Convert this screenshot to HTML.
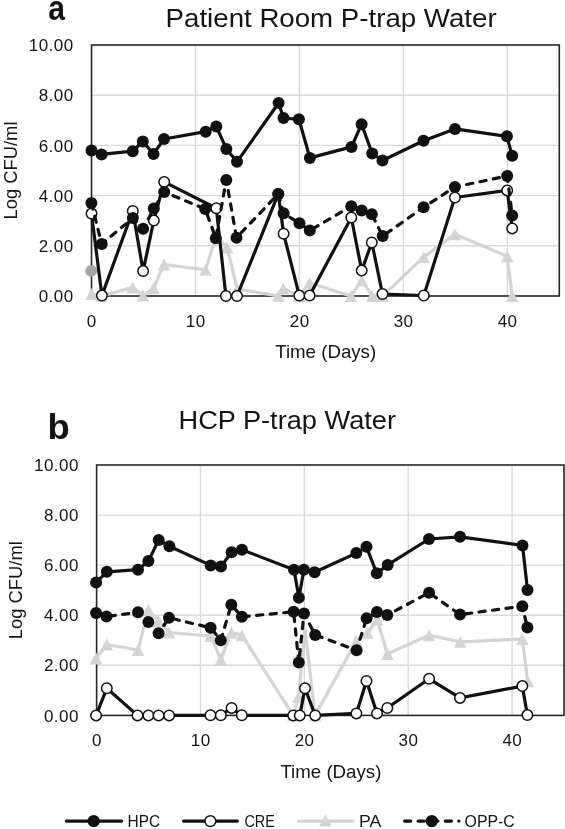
<!DOCTYPE html>
<html><head><meta charset="utf-8"><title>P-trap Water charts</title>
<style>
html,body{margin:0;padding:0;background:#fff;}
body{width:565px;height:829px;overflow:hidden;}
svg{display:block;will-change:transform;}
text{font-family:"Liberation Sans",sans-serif;fill:#141414;}
.pl{font-weight:bold;font-size:35px;}
.ti{font-size:26px;}
.tk{font-size:17px;letter-spacing:0.45px;}
.at{font-size:18.5px;}
.lg{font-size:17px;}
</style></head>
<body>
<svg width="565" height="829" viewBox="0 0 565 829">
<rect width="565" height="829" fill="#fff"/>
<text x="0" y="0" class="pl" transform="translate(48.2,20.2) scale(0.86,1)">a</text>
<text x="165.6" y="27" class="ti" textLength="331" lengthAdjust="spacingAndGlyphs">Patient Room P-trap Water</text>
<line x1="195.46" y1="45" x2="195.46" y2="296" stroke="#d9d9d9" stroke-width="1.4"/>
<line x1="299.41" y1="45" x2="299.41" y2="296" stroke="#d9d9d9" stroke-width="1.4"/>
<line x1="403.37" y1="45" x2="403.37" y2="296" stroke="#d9d9d9" stroke-width="1.4"/>
<line x1="507.32" y1="45" x2="507.32" y2="296" stroke="#d9d9d9" stroke-width="1.4"/>
<line x1="91.5" y1="245.8" x2="559.3" y2="245.8" stroke="#d9d9d9" stroke-width="1.4"/>
<line x1="91.5" y1="195.6" x2="559.3" y2="195.6" stroke="#d9d9d9" stroke-width="1.4"/>
<line x1="91.5" y1="145.4" x2="559.3" y2="145.4" stroke="#d9d9d9" stroke-width="1.4"/>
<line x1="91.5" y1="95.2" x2="559.3" y2="95.2" stroke="#d9d9d9" stroke-width="1.4"/>
<rect x="91.5" y="45" width="467.8" height="251" fill="none" stroke="#262626" stroke-width="1.6"/>
<text x="73.6" y="302.1" class="tk" text-anchor="end">0.00</text>
<text x="73.6" y="251.9" class="tk" text-anchor="end">2.00</text>
<text x="73.6" y="201.7" class="tk" text-anchor="end">4.00</text>
<text x="73.6" y="151.5" class="tk" text-anchor="end">6.00</text>
<text x="73.6" y="101.3" class="tk" text-anchor="end">8.00</text>
<text x="73.6" y="51.1" class="tk" text-anchor="end">10.00</text>
<text x="91.75" y="327.2" class="tk" text-anchor="middle">0</text>
<text x="195.71" y="327.2" class="tk" text-anchor="middle">10</text>
<text x="299.66" y="327.2" class="tk" text-anchor="middle">20</text>
<text x="403.62" y="327.2" class="tk" text-anchor="middle">30</text>
<text x="507.57" y="327.2" class="tk" text-anchor="middle">40</text>
<text transform="translate(16.9,170.5) rotate(-90)" class="at" text-anchor="middle" textLength="98" lengthAdjust="spacingAndGlyphs">Log CFU/ml</text>
<text x="325.7" y="358.4" class="at" text-anchor="middle" textLength="101" lengthAdjust="spacingAndGlyphs">Time (Days)</text>
<polyline points="91.5,294 101.6,296 132.7,287.4 143,295.5 153.5,288.2 164,264.5 205.6,269.8 215.9,236.4 227.1,247.5 237.2,289 278.6,296 283.3,288.5 299,296 309.7,283 351,296 361.8,280.3 372.2,296 382.5,296 423.6,257.1 454.9,234.3 507.2,256.3 512.2,296" fill="none" stroke="#d4d4d4" stroke-width="3.2" stroke-linejoin="round"/>
<path d="M91.5,288.01 L97.8,299.99 L85.2,299.99 Z" fill="#d4d4d4"/>
<path d="M101.6,290.01 L107.9,301.99 L95.3,301.99 Z" fill="#d4d4d4"/>
<path d="M132.7,281.41 L139,293.38 L126.4,293.38 Z" fill="#d4d4d4"/>
<path d="M143,289.51 L149.3,301.49 L136.7,301.49 Z" fill="#d4d4d4"/>
<path d="M153.5,282.21 L159.8,294.19 L147.2,294.19 Z" fill="#d4d4d4"/>
<path d="M164,258.51 L170.3,270.49 L157.7,270.49 Z" fill="#d4d4d4"/>
<path d="M205.6,263.81 L211.9,275.79 L199.3,275.79 Z" fill="#d4d4d4"/>
<path d="M215.9,230.42 L222.2,242.38 L209.6,242.38 Z" fill="#d4d4d4"/>
<path d="M227.1,241.51 L233.4,253.49 L220.8,253.49 Z" fill="#d4d4d4"/>
<path d="M237.2,283.01 L243.5,294.99 L230.9,294.99 Z" fill="#d4d4d4"/>
<path d="M278.6,290.01 L284.9,301.99 L272.3,301.99 Z" fill="#d4d4d4"/>
<path d="M283.3,282.51 L289.6,294.49 L277,294.49 Z" fill="#d4d4d4"/>
<path d="M299,290.01 L305.3,301.99 L292.7,301.99 Z" fill="#d4d4d4"/>
<path d="M309.7,277.01 L316,288.99 L303.4,288.99 Z" fill="#d4d4d4"/>
<path d="M351,290.01 L357.3,301.99 L344.7,301.99 Z" fill="#d4d4d4"/>
<path d="M361.8,274.31 L368.1,286.29 L355.5,286.29 Z" fill="#d4d4d4"/>
<path d="M372.2,290.01 L378.5,301.99 L365.9,301.99 Z" fill="#d4d4d4"/>
<path d="M382.5,290.01 L388.8,301.99 L376.2,301.99 Z" fill="#d4d4d4"/>
<path d="M423.6,251.12 L429.9,263.09 L417.3,263.09 Z" fill="#d4d4d4"/>
<path d="M454.9,228.31 L461.2,240.29 L448.6,240.29 Z" fill="#d4d4d4"/>
<path d="M507.2,250.31 L513.5,262.29 L500.9,262.29 Z" fill="#d4d4d4"/>
<path d="M512.2,290.01 L518.5,301.99 L505.9,301.99 Z" fill="#d4d4d4"/>
<circle cx="91.2" cy="270.9" r="5.95" fill="#a6a6a6"/>
<polyline points="91.5,150.4 101.6,154.4 132.7,151.2 142.8,141.5 153.5,153.9 164,139 205.7,131.7 216.3,126.4 226.4,149 237,161.8 278.6,103 283.5,118 298.9,119.3 309.9,157.9 351.5,146.9 361.6,124.2 372.2,153.5 382.5,160.5 423.5,140.7 455,128.9 506.9,136.3 512.2,155.8" fill="none" stroke="#111" stroke-width="3.2" stroke-linejoin="round"/>
<circle cx="91.5" cy="150.4" r="6.0" fill="#111"/>
<circle cx="101.6" cy="154.4" r="6.0" fill="#111"/>
<circle cx="132.7" cy="151.2" r="6.0" fill="#111"/>
<circle cx="142.8" cy="141.5" r="6.0" fill="#111"/>
<circle cx="153.5" cy="153.9" r="6.0" fill="#111"/>
<circle cx="164" cy="139" r="6.0" fill="#111"/>
<circle cx="205.7" cy="131.7" r="6.0" fill="#111"/>
<circle cx="216.3" cy="126.4" r="6.0" fill="#111"/>
<circle cx="226.4" cy="149" r="6.0" fill="#111"/>
<circle cx="237" cy="161.8" r="6.0" fill="#111"/>
<circle cx="278.6" cy="103" r="6.0" fill="#111"/>
<circle cx="283.5" cy="118" r="6.0" fill="#111"/>
<circle cx="298.9" cy="119.3" r="6.0" fill="#111"/>
<circle cx="309.9" cy="157.9" r="6.0" fill="#111"/>
<circle cx="351.5" cy="146.9" r="6.0" fill="#111"/>
<circle cx="361.6" cy="124.2" r="6.0" fill="#111"/>
<circle cx="372.2" cy="153.5" r="6.0" fill="#111"/>
<circle cx="382.5" cy="160.5" r="6.0" fill="#111"/>
<circle cx="423.5" cy="140.7" r="6.0" fill="#111"/>
<circle cx="455" cy="128.9" r="6.0" fill="#111"/>
<circle cx="506.9" cy="136.3" r="6.0" fill="#111"/>
<circle cx="512.2" cy="155.8" r="6.0" fill="#111"/>
<polyline points="91.5,213.6 101.9,295.6 132.8,210.9 143.1,271.1 153.8,220.5 164.2,181.9 216.3,208.2 225.9,296 237,296 278.3,193.9 283.6,233.7 299.3,295.6 309.6,295.6 351.3,217.5 361.7,270.6 371.8,242.5 382.5,294 423.8,295.5 454.9,197.5 507.2,190.4 512.2,228.4" fill="none" stroke="#111" stroke-width="3.2" stroke-linejoin="round"/>
<circle cx="91.5" cy="213.6" r="5.25" fill="#fff" stroke="#111" stroke-width="1.5"/>
<circle cx="101.9" cy="295.6" r="5.25" fill="#fff" stroke="#111" stroke-width="1.5"/>
<circle cx="132.8" cy="210.9" r="5.25" fill="#fff" stroke="#111" stroke-width="1.5"/>
<circle cx="143.1" cy="271.1" r="5.25" fill="#fff" stroke="#111" stroke-width="1.5"/>
<circle cx="153.8" cy="220.5" r="5.25" fill="#fff" stroke="#111" stroke-width="1.5"/>
<circle cx="164.2" cy="181.9" r="5.25" fill="#fff" stroke="#111" stroke-width="1.5"/>
<circle cx="216.3" cy="208.2" r="5.25" fill="#fff" stroke="#111" stroke-width="1.5"/>
<circle cx="225.9" cy="296" r="5.25" fill="#fff" stroke="#111" stroke-width="1.5"/>
<circle cx="237" cy="296" r="5.25" fill="#fff" stroke="#111" stroke-width="1.5"/>
<circle cx="278.3" cy="193.9" r="5.25" fill="#fff" stroke="#111" stroke-width="1.5"/>
<circle cx="283.6" cy="233.7" r="5.25" fill="#fff" stroke="#111" stroke-width="1.5"/>
<circle cx="299.3" cy="295.6" r="5.25" fill="#fff" stroke="#111" stroke-width="1.5"/>
<circle cx="309.6" cy="295.6" r="5.25" fill="#fff" stroke="#111" stroke-width="1.5"/>
<circle cx="351.3" cy="217.5" r="5.25" fill="#fff" stroke="#111" stroke-width="1.5"/>
<circle cx="361.7" cy="270.6" r="5.25" fill="#fff" stroke="#111" stroke-width="1.5"/>
<circle cx="371.8" cy="242.5" r="5.25" fill="#fff" stroke="#111" stroke-width="1.5"/>
<circle cx="382.5" cy="294" r="5.25" fill="#fff" stroke="#111" stroke-width="1.5"/>
<circle cx="423.8" cy="295.5" r="5.25" fill="#fff" stroke="#111" stroke-width="1.5"/>
<circle cx="454.9" cy="197.5" r="5.25" fill="#fff" stroke="#111" stroke-width="1.5"/>
<circle cx="507.2" cy="190.4" r="5.25" fill="#fff" stroke="#111" stroke-width="1.5"/>
<circle cx="512.2" cy="228.4" r="5.25" fill="#fff" stroke="#111" stroke-width="1.5"/>
<polyline points="91.4,203 101.7,244 132.9,218.1 143.1,228.8 153.8,208.5 164.2,192 205.2,209 215.8,238.2 226.3,179.9 236.5,237.7 278.3,193.9 283.6,213.3 299.5,223.3 309.8,230.5 351.3,206.3 361.7,210.6 371.8,214.3 382.7,236.1 423.6,207.3 454.9,187 507.2,176 512.2,215.4" fill="none" stroke="#111" stroke-width="3.2" stroke-dasharray="6.2 7.4" stroke-linecap="round" stroke-linejoin="round"/>
<circle cx="91.4" cy="203" r="6.0" fill="#111"/>
<circle cx="101.7" cy="244" r="6.0" fill="#111"/>
<circle cx="132.9" cy="218.1" r="6.0" fill="#111"/>
<circle cx="143.1" cy="228.8" r="6.0" fill="#111"/>
<circle cx="153.8" cy="208.5" r="6.0" fill="#111"/>
<circle cx="164.2" cy="192" r="6.0" fill="#111"/>
<circle cx="205.2" cy="209" r="6.0" fill="#111"/>
<circle cx="215.8" cy="238.2" r="6.0" fill="#111"/>
<circle cx="226.3" cy="179.9" r="6.0" fill="#111"/>
<circle cx="236.5" cy="237.7" r="6.0" fill="#111"/>
<circle cx="278.3" cy="193.9" r="6.0" fill="#111"/>
<circle cx="283.6" cy="213.3" r="6.0" fill="#111"/>
<circle cx="299.5" cy="223.3" r="6.0" fill="#111"/>
<circle cx="309.8" cy="230.5" r="6.0" fill="#111"/>
<circle cx="351.3" cy="206.3" r="6.0" fill="#111"/>
<circle cx="361.7" cy="210.6" r="6.0" fill="#111"/>
<circle cx="371.8" cy="214.3" r="6.0" fill="#111"/>
<circle cx="382.7" cy="236.1" r="6.0" fill="#111"/>
<circle cx="423.6" cy="207.3" r="6.0" fill="#111"/>
<circle cx="454.9" cy="187" r="6.0" fill="#111"/>
<circle cx="507.2" cy="176" r="6.0" fill="#111"/>
<circle cx="512.2" cy="215.4" r="6.0" fill="#111"/>
<text x="0" y="0" class="pl" transform="translate(47.6,439.3) scale(1.04,1.02)">b</text>
<text x="178.5" y="429.3" class="ti" textLength="217.5" lengthAdjust="spacingAndGlyphs">HCP P-trap Water</text>
<line x1="200.47" y1="465" x2="200.47" y2="715.4" stroke="#d9d9d9" stroke-width="1.4"/>
<line x1="304.33" y1="465" x2="304.33" y2="715.4" stroke="#d9d9d9" stroke-width="1.4"/>
<line x1="408.2" y1="465" x2="408.2" y2="715.4" stroke="#d9d9d9" stroke-width="1.4"/>
<line x1="512.07" y1="465" x2="512.07" y2="715.4" stroke="#d9d9d9" stroke-width="1.4"/>
<line x1="96.6" y1="665.32" x2="564" y2="665.32" stroke="#d9d9d9" stroke-width="1.4"/>
<line x1="96.6" y1="615.24" x2="564" y2="615.24" stroke="#d9d9d9" stroke-width="1.4"/>
<line x1="96.6" y1="565.16" x2="564" y2="565.16" stroke="#d9d9d9" stroke-width="1.4"/>
<line x1="96.6" y1="515.08" x2="564" y2="515.08" stroke="#d9d9d9" stroke-width="1.4"/>
<rect x="96.6" y="465" width="467.4" height="250.4" fill="none" stroke="#262626" stroke-width="1.6"/>
<text x="78.8" y="721.5" class="tk" text-anchor="end">0.00</text>
<text x="78.8" y="671.42" class="tk" text-anchor="end">2.00</text>
<text x="78.8" y="621.34" class="tk" text-anchor="end">4.00</text>
<text x="78.8" y="571.26" class="tk" text-anchor="end">6.00</text>
<text x="78.8" y="521.18" class="tk" text-anchor="end">8.00</text>
<text x="78.8" y="471.1" class="tk" text-anchor="end">10.00</text>
<text x="96.85" y="746.4" class="tk" text-anchor="middle">0</text>
<text x="200.72" y="746.4" class="tk" text-anchor="middle">10</text>
<text x="304.58" y="746.4" class="tk" text-anchor="middle">20</text>
<text x="408.45" y="746.4" class="tk" text-anchor="middle">30</text>
<text x="512.32" y="746.4" class="tk" text-anchor="middle">40</text>
<text transform="translate(22,590.2) rotate(-90)" class="at" text-anchor="middle" textLength="98" lengthAdjust="spacingAndGlyphs">Log CFU/ml</text>
<text x="330.9" y="778" class="at" text-anchor="middle" textLength="101" lengthAdjust="spacingAndGlyphs">Time (Days)</text>
<polyline points="96.1,658.5 106.8,644.5 138,650 148.4,610 158.6,621 169,632.5 210.6,636 220.8,659.3 231.4,632.4 241.8,635.2 293.3,715.4 298.6,696.8 305,629 315,715.4 356.4,641 367.4,632.7 377.1,619.5 387.3,654 429.1,635.2 460.2,641.8 522.3,639.1 527.7,681.2" fill="none" stroke="#d4d4d4" stroke-width="3.2" stroke-linejoin="round"/>
<path d="M96.1,652.51 L102.4,664.49 L89.8,664.49 Z" fill="#d4d4d4"/>
<path d="M106.8,638.51 L113.1,650.49 L100.5,650.49 Z" fill="#d4d4d4"/>
<path d="M138,644.01 L144.3,655.99 L131.7,655.99 Z" fill="#d4d4d4"/>
<path d="M148.4,604.01 L154.7,615.99 L142.1,615.99 Z" fill="#d4d4d4"/>
<path d="M158.6,615.01 L164.9,626.99 L152.3,626.99 Z" fill="#d4d4d4"/>
<path d="M169,626.51 L175.3,638.49 L162.7,638.49 Z" fill="#d4d4d4"/>
<path d="M210.6,630.01 L216.9,641.99 L204.3,641.99 Z" fill="#d4d4d4"/>
<path d="M220.8,653.31 L227.1,665.28 L214.5,665.28 Z" fill="#d4d4d4"/>
<path d="M231.4,626.41 L237.7,638.38 L225.1,638.38 Z" fill="#d4d4d4"/>
<path d="M241.8,629.22 L248.1,641.19 L235.5,641.19 Z" fill="#d4d4d4"/>
<path d="M293.3,709.41 L299.6,721.38 L287,721.38 Z" fill="#d4d4d4"/>
<path d="M298.6,690.81 L304.9,702.78 L292.3,702.78 Z" fill="#d4d4d4"/>
<path d="M315,709.41 L321.3,721.38 L308.7,721.38 Z" fill="#d4d4d4"/>
<path d="M356.4,635.01 L362.7,646.99 L350.1,646.99 Z" fill="#d4d4d4"/>
<path d="M367.4,626.72 L373.7,638.69 L361.1,638.69 Z" fill="#d4d4d4"/>
<path d="M377.1,613.51 L383.4,625.49 L370.8,625.49 Z" fill="#d4d4d4"/>
<path d="M387.3,648.01 L393.6,659.99 L381,659.99 Z" fill="#d4d4d4"/>
<path d="M429.1,629.22 L435.4,641.19 L422.8,641.19 Z" fill="#d4d4d4"/>
<path d="M460.2,635.81 L466.5,647.78 L453.9,647.78 Z" fill="#d4d4d4"/>
<path d="M522.3,633.12 L528.6,645.09 L516,645.09 Z" fill="#d4d4d4"/>
<path d="M527.7,675.22 L534,687.19 L521.4,687.19 Z" fill="#d4d4d4"/>
<polyline points="96.1,582.6 106.8,571.8 138,569.7 148.4,561.1 158.7,539.9 169.4,546.2 210.7,565.4 221,566.5 231.6,552.3 241.9,549.7 294,569.7 298.9,597.7 303.9,569.7 314.6,572.2 356.3,553.1 366.5,546.8 376.8,573.3 387.7,564.9 429,539 460,536.8 522.5,545.4 527.5,589.9" fill="none" stroke="#111" stroke-width="3.2" stroke-linejoin="round"/>
<circle cx="96.1" cy="582.6" r="6.0" fill="#111"/>
<circle cx="106.8" cy="571.8" r="6.0" fill="#111"/>
<circle cx="138" cy="569.7" r="6.0" fill="#111"/>
<circle cx="148.4" cy="561.1" r="6.0" fill="#111"/>
<circle cx="158.7" cy="539.9" r="6.0" fill="#111"/>
<circle cx="169.4" cy="546.2" r="6.0" fill="#111"/>
<circle cx="210.7" cy="565.4" r="6.0" fill="#111"/>
<circle cx="221" cy="566.5" r="6.0" fill="#111"/>
<circle cx="231.6" cy="552.3" r="6.0" fill="#111"/>
<circle cx="241.9" cy="549.7" r="6.0" fill="#111"/>
<circle cx="294" cy="569.7" r="6.0" fill="#111"/>
<circle cx="298.9" cy="597.7" r="6.0" fill="#111"/>
<circle cx="303.9" cy="569.7" r="6.0" fill="#111"/>
<circle cx="314.6" cy="572.2" r="6.0" fill="#111"/>
<circle cx="356.3" cy="553.1" r="6.0" fill="#111"/>
<circle cx="366.5" cy="546.8" r="6.0" fill="#111"/>
<circle cx="376.8" cy="573.3" r="6.0" fill="#111"/>
<circle cx="387.7" cy="564.9" r="6.0" fill="#111"/>
<circle cx="429" cy="539" r="6.0" fill="#111"/>
<circle cx="460" cy="536.8" r="6.0" fill="#111"/>
<circle cx="522.5" cy="545.4" r="6.0" fill="#111"/>
<circle cx="527.5" cy="589.9" r="6.0" fill="#111"/>
<polyline points="96.1,715.4 106.8,688.3 137.5,715.4 148.4,715.4 158.6,715.4 169.1,715.4 210.5,715.3 220.8,715.3 231.6,707.9 241.8,715.3 293.2,715.4 299.8,715.4 305,688.2 315.2,715.4 356.4,713.4 366.5,681 377,713.4 387.3,708 429.1,678.8 460,697.9 522.3,686.1 527.4,715.1" fill="none" stroke="#111" stroke-width="3.2" stroke-linejoin="round"/>
<circle cx="96.1" cy="715.4" r="5.25" fill="#fff" stroke="#111" stroke-width="1.5"/>
<circle cx="106.8" cy="688.3" r="5.25" fill="#fff" stroke="#111" stroke-width="1.5"/>
<circle cx="137.5" cy="715.4" r="5.25" fill="#fff" stroke="#111" stroke-width="1.5"/>
<circle cx="148.4" cy="715.4" r="5.25" fill="#fff" stroke="#111" stroke-width="1.5"/>
<circle cx="158.6" cy="715.4" r="5.25" fill="#fff" stroke="#111" stroke-width="1.5"/>
<circle cx="169.1" cy="715.4" r="5.25" fill="#fff" stroke="#111" stroke-width="1.5"/>
<circle cx="210.5" cy="715.3" r="5.25" fill="#fff" stroke="#111" stroke-width="1.5"/>
<circle cx="220.8" cy="715.3" r="5.25" fill="#fff" stroke="#111" stroke-width="1.5"/>
<circle cx="231.6" cy="707.9" r="5.25" fill="#fff" stroke="#111" stroke-width="1.5"/>
<circle cx="241.8" cy="715.3" r="5.25" fill="#fff" stroke="#111" stroke-width="1.5"/>
<circle cx="293.2" cy="715.4" r="5.25" fill="#fff" stroke="#111" stroke-width="1.5"/>
<circle cx="299.8" cy="715.4" r="5.25" fill="#fff" stroke="#111" stroke-width="1.5"/>
<circle cx="305" cy="688.2" r="5.25" fill="#fff" stroke="#111" stroke-width="1.5"/>
<circle cx="315.2" cy="715.4" r="5.25" fill="#fff" stroke="#111" stroke-width="1.5"/>
<circle cx="356.4" cy="713.4" r="5.25" fill="#fff" stroke="#111" stroke-width="1.5"/>
<circle cx="366.5" cy="681" r="5.25" fill="#fff" stroke="#111" stroke-width="1.5"/>
<circle cx="377" cy="713.4" r="5.25" fill="#fff" stroke="#111" stroke-width="1.5"/>
<circle cx="387.3" cy="708" r="5.25" fill="#fff" stroke="#111" stroke-width="1.5"/>
<circle cx="429.1" cy="678.8" r="5.25" fill="#fff" stroke="#111" stroke-width="1.5"/>
<circle cx="460" cy="697.9" r="5.25" fill="#fff" stroke="#111" stroke-width="1.5"/>
<circle cx="522.3" cy="686.1" r="5.25" fill="#fff" stroke="#111" stroke-width="1.5"/>
<circle cx="527.4" cy="715.1" r="5.25" fill="#fff" stroke="#111" stroke-width="1.5"/>
<polyline points="96.1,613.1 106.5,616.6 138,612.3 148.4,621.9 158.6,633.3 169,617.8 210.6,627.8 220.8,640.2 231.3,604.7 241.9,616.8 293.6,611.8 298.8,662.6 304,613.4 315.2,635 356.6,650.3 366.6,618.3 377,611.9 387.3,615.1 429.1,592.7 460,614.6 522.3,606.2 527.4,627.6" fill="none" stroke="#111" stroke-width="3.2" stroke-dasharray="6.2 7.4" stroke-linecap="round" stroke-linejoin="round"/>
<circle cx="96.1" cy="613.1" r="6.0" fill="#111"/>
<circle cx="106.5" cy="616.6" r="6.0" fill="#111"/>
<circle cx="138" cy="612.3" r="6.0" fill="#111"/>
<circle cx="148.4" cy="621.9" r="6.0" fill="#111"/>
<circle cx="158.6" cy="633.3" r="6.0" fill="#111"/>
<circle cx="169" cy="617.8" r="6.0" fill="#111"/>
<circle cx="210.6" cy="627.8" r="6.0" fill="#111"/>
<circle cx="220.8" cy="640.2" r="6.0" fill="#111"/>
<circle cx="231.3" cy="604.7" r="6.0" fill="#111"/>
<circle cx="241.9" cy="616.8" r="6.0" fill="#111"/>
<circle cx="293.6" cy="611.8" r="6.0" fill="#111"/>
<circle cx="298.8" cy="662.6" r="6.0" fill="#111"/>
<circle cx="304" cy="613.4" r="6.0" fill="#111"/>
<circle cx="315.2" cy="635" r="6.0" fill="#111"/>
<circle cx="356.6" cy="650.3" r="6.0" fill="#111"/>
<circle cx="366.6" cy="618.3" r="6.0" fill="#111"/>
<circle cx="377" cy="611.9" r="6.0" fill="#111"/>
<circle cx="387.3" cy="615.1" r="6.0" fill="#111"/>
<circle cx="429.1" cy="592.7" r="6.0" fill="#111"/>
<circle cx="460" cy="614.6" r="6.0" fill="#111"/>
<circle cx="522.3" cy="606.2" r="6.0" fill="#111"/>
<circle cx="527.4" cy="627.6" r="6.0" fill="#111"/>
<line x1="66.4" y1="821.1" x2="121.6" y2="821.1" stroke="#111" stroke-width="3.2" stroke-linecap="round"/>
<circle cx="93.7" cy="821.1" r="6.2" fill="#111"/>
<text x="127.6" y="827" class="lg" textLength="32.6" lengthAdjust="spacingAndGlyphs">HPC</text>
<line x1="183.6" y1="821.1" x2="237.4" y2="821.1" stroke="#111" stroke-width="3.2" stroke-linecap="round"/>
<circle cx="210.4" cy="821.1" r="5.4" fill="#fff" stroke="#111" stroke-width="1.5"/>
<text x="244.4" y="827" class="lg" textLength="30.6" lengthAdjust="spacingAndGlyphs">CRE</text>
<line x1="298.4" y1="821.1" x2="353.2" y2="821.1" stroke="#d4d4d4" stroke-width="3.2" stroke-linecap="round"/>
<path d="M325.4,814.62 L331.7,826.59 L319.1,826.59 Z" fill="#d4d4d4"/>
<text x="359" y="827" class="lg" textLength="22.3" lengthAdjust="spacingAndGlyphs">PA</text>
<line x1="404.6" y1="821.1" x2="458.9" y2="821.1" stroke="#111" stroke-width="3.2" stroke-dasharray="6.2 7.35" stroke-linecap="round"/>
<circle cx="431.8" cy="821.1" r="6.2" fill="#111"/>
<text x="464.6" y="827" class="lg" textLength="50.2" lengthAdjust="spacingAndGlyphs">OPP-C</text>
</svg>
</body></html>
